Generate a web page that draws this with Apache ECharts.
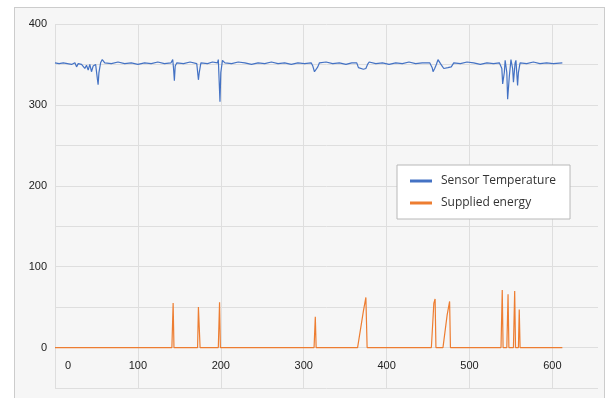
<!DOCTYPE html>
<html>
<head>
<meta charset="utf-8">
<title>Sensor Temperature / Supplied energy</title>
<script src="https://cdn.jsdelivr.net/npm/echarts@6/dist/echarts.min.js"></script>
<style>
  html, body { margin: 0; padding: 0; background: #ffffff; }
  #frame {
    position: absolute; left: 14px; top: 7px;
    width: 589px; height: 400px;
    border: 1px solid #cccccc; background: #f6f6f6;
  }
  #chart { position: absolute; left: 0; top: 0; width: 611px; height: 398px; }
</style>
</head>
<body>
<div id="frame"></div>
<div id="chart"></div>
<script>
// Sensor Temperature (x = sample index, y = value)
const tempX = [0, 5, 10, 15, 20, 24, 26, 28, 32, 36, 38, 40, 42, 44, 46, 49, 51, 52, 53, 55, 57, 60,
  68, 76, 84, 92, 100, 108, 116, 124, 132, 140, 142, 143, 144, 145, 147, 155, 163, 171, 173, 174, 176,
  184, 190, 196, 197, 199, 200, 202, 205, 213, 221, 229, 237, 245, 253, 261, 269, 277, 285, 293, 301,
  309, 311, 313, 315, 317, 319, 327, 335, 343, 351, 358, 364, 366, 368, 372, 375, 377, 379, 387, 395,
  403, 411, 419, 427, 435, 443, 452, 455, 456, 458, 460, 462, 465, 467, 469, 474, 478, 481, 489, 497,
  505, 513, 521, 529, 536, 539, 540, 542, 543, 545, 546, 548, 550, 552, 553, 555, 556, 558, 559, 561,
  569, 577, 585, 593, 601, 612];
const tempY = [352, 351, 352, 351, 350, 352, 347, 351, 350, 345, 349, 343, 350, 341, 348, 350, 333, 325, 340, 352, 356, 352,
  351, 353, 351, 352, 350, 352, 351, 353, 351, 352, 356, 345, 330, 348, 352, 351, 353, 351, 331, 340, 352,
  351, 353, 352, 356, 304, 340, 355, 352, 351, 353, 352, 350, 352, 351, 353, 351, 352, 350, 352, 351,
  352, 348, 341, 340, 347, 352, 353, 351, 352, 350, 352, 352, 346, 344, 344, 345, 350, 353, 351, 352,
  350, 352, 351, 353, 351, 352, 352, 346, 341, 345, 350, 356, 351, 348, 345, 346, 347, 352, 351, 353,
  352, 350, 352, 351, 352, 345, 326, 340, 355, 340, 307, 335, 356, 345, 328, 352, 355, 324, 340, 352,
  351, 353, 351, 352, 351, 352];

// Supplied energy
const energyX = [0, 141, 142.5, 143.5, 172, 173, 174, 175, 197, 198.5, 199.5, 312.5, 314, 315,
  365, 372, 375, 376.5, 454, 457, 458.5, 459.5, 468, 473, 476, 477, 538, 539.5, 540.5,
  545, 546.5, 547.5, 553, 554.5, 555.5, 559, 560, 561, 612];
const energyY = [0, 0, 55, 0, 0, 50, 48, 0, 0, 56, 0, 0, 38, 0,
  0, 45, 62, 0, 0, 55, 60, 0, 0, 40, 57, 0, 0, 71, 0,
  0, 66, 0, 0, 70, 0, 0, 47, 0, 0];

const seriesNames = ['Sensor Temperature', 'Supplied energy'];
const seriesColors = ['#4472c4', '#ed7d31'];

const pairs = (xs, ys) => xs.map((x, i) => [x, ys[i]]);

const chart = echarts.init(document.getElementById('chart'));

const labelFont = { fontFamily: 'Liberation Sans, Arial, sans-serif', fontSize: 11, color: '#222' };

chart.setOption({
  backgroundColor: 'transparent',
  animation: false,
  grid: { left: 55, top: 24, right: 13, bottom: 10 },
  legend: {
    data: seriesNames,
    orient: 'vertical',
    left: 397,
    top: 165,
    padding: [8, 14, 8, 13],
    itemGap: 6,
    itemWidth: 22,
    itemHeight: 3,
    icon: 'rect',
    backgroundColor: '#ffffff',
    borderColor: '#b8b8b8',
    borderWidth: 1,
    textStyle: {
      fontFamily: 'Open Sans, sans-serif',
      fontSize: 12,
      color: '#333',
      lineHeight: 16,
      padding: [0, 0, 0, 4]
    }
  },
  xAxis: {
    type: 'value',
    min: 0,
    max: 655,
    interval: 100,
    axisLine: { show: false },
    axisTick: { show: false },
    splitLine: { show: true, showMaxLine: false, lineStyle: { color: '#dedede', width: 1 } },
    axisLabel: {
      ...labelFont,
      inside: true,
      margin: 17,
      formatter: v => (v % 100 !== 0 ? '' : (v === 0 ? '{z|0}' : String(v))),
      rich: { z: { ...labelFont, padding: [0, 0, 0, 26] } }
    }
  },
  yAxis: {
    type: 'value',
    min: -50,
    max: 400,
    interval: 50,
    axisLine: { show: false },
    axisTick: { show: false },
    splitLine: { show: true, lineStyle: { color: '#dedede', width: 1 } },
    axisLabel: {
      ...labelFont,
      margin: 8,
      formatter: v => (v >= 0 && v % 100 === 0 ? String(v) : '')
    }
  },
  series: [
    {
      name: seriesNames[0],
      type: 'line',
      data: pairs(tempX, tempY),
      showSymbol: false,
      color: seriesColors[0],
      lineStyle: { width: 1.2 }
    },
    {
      name: seriesNames[1],
      type: 'line',
      data: pairs(energyX, energyY),
      showSymbol: false,
      color: seriesColors[1],
      lineStyle: { width: 1.2 }
    }
  ]
});
</script>
</body>
</html>
